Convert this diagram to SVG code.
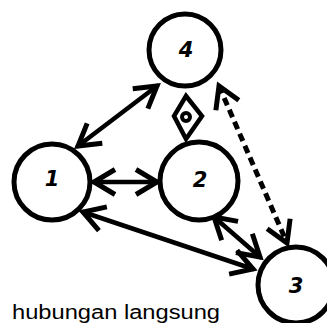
<svg xmlns="http://www.w3.org/2000/svg" width="327" height="323" viewBox="0 0 327 323">
  <style>
    .node circle { fill: #fff; stroke: #000; stroke-width: 5; }
    .node text { font-family: "DejaVu Sans", sans-serif; font-weight: bold; font-style: italic; font-size: 21px; text-anchor: middle; dominant-baseline: central; fill: #000; }
    .edge { fill: none; stroke: #000; stroke-width: 4.5; stroke-linecap: round; }
    .dashed { stroke-dasharray: 8 5; stroke-linecap: butt; stroke-width: 5; }
    .caption { font-family: "Liberation Sans", Arial, sans-serif; font-size: 20px; fill: #000; }
  </style>
  <defs>
    <marker id="vhead" markerUnits="userSpaceOnUse" markerWidth="32" markerHeight="32" refX="0" refY="0" viewBox="-26 -16 30 32" orient="auto-start-reverse" overflow="visible">
      <path d="M-21,-12.5 L0,0 L-21,12.5" fill="none" stroke="#000" stroke-width="5" stroke-linecap="butt" stroke-linejoin="miter"/>
    </marker>
  </defs>

  <rect width="327" height="323" fill="#fff"/>

  <g id="connectors">
    <line class="edge" x1="78" y1="146" x2="157" y2="86" marker-start="url(#vhead)" marker-end="url(#vhead)"/>
    <line class="edge" x1="94" y1="182" x2="157" y2="182" marker-start="url(#vhead)" marker-end="url(#vhead)"/>
    <line class="edge" x1="83" y1="212" x2="253" y2="269" marker-start="url(#vhead)" marker-end="url(#vhead)"/>
    <line class="edge" x1="214" y1="217" x2="260" y2="257" marker-start="url(#vhead)" marker-end="url(#vhead)"/>
    <line class="edge dashed" x1="219" y1="86" x2="287" y2="243" marker-start="url(#vhead)" marker-end="url(#vhead)"/>
  </g>

  <g id="node-4" class="node">
    <circle cx="185" cy="50" r="36"/>
    <text x="186" y="50">4</text>
  </g>
  <g id="node-1" class="node">
    <circle cx="52" cy="182" r="38"/>
    <text x="52" y="179">1</text>
  </g>
  <g id="node-2" class="node">
    <circle cx="199" cy="181" r="39"/>
    <text x="200" y="180">2</text>
  </g>
  <g id="node-3" class="node">
    <circle cx="296" cy="285" r="38"/>
    <text x="296" y="286">3</text>
  </g>

  <g id="diamond">
    <path d="M186,96 L202,116 L186,139 L174,116 Z" fill="#fff" stroke="#000" stroke-width="4.5" stroke-linejoin="miter"/>
    <circle cx="186" cy="117" r="4" fill="#fff" stroke="#000" stroke-width="4"/>
  </g>

  <text class="caption" x="12" y="319" textLength="208" lengthAdjust="spacingAndGlyphs">hubungan langsung</text>
</svg>
